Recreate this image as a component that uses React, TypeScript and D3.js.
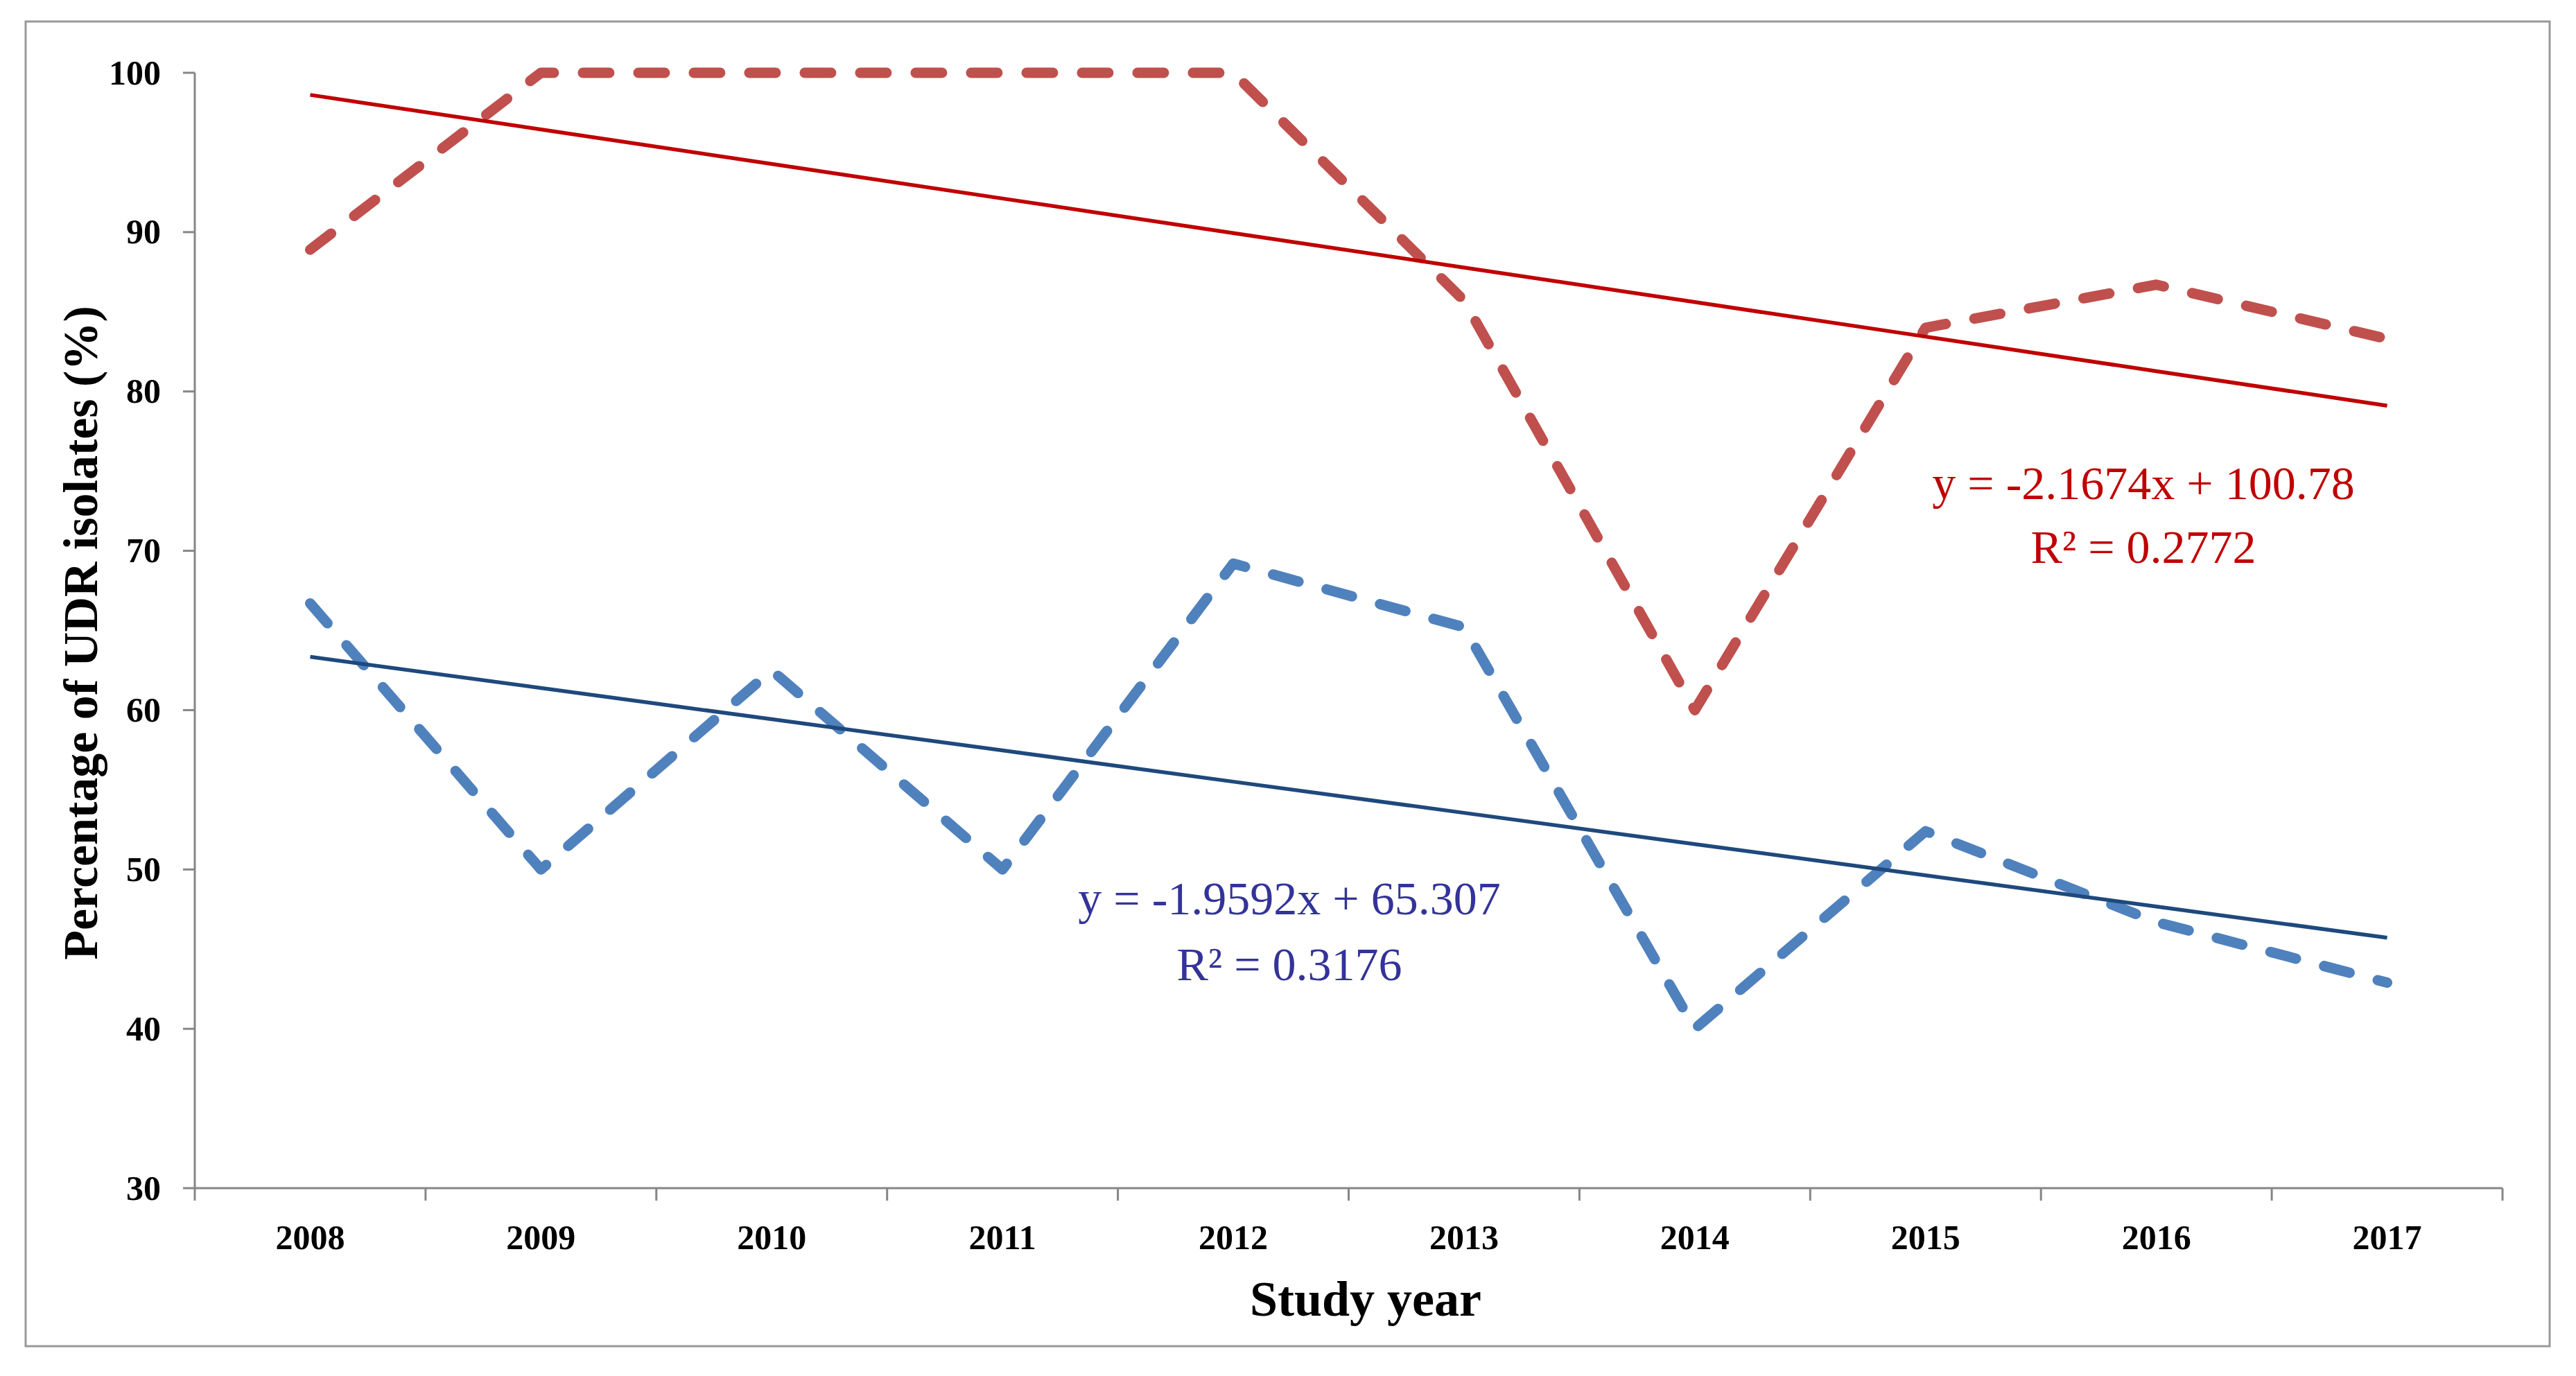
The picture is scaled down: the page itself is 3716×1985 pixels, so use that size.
import * as React from 'react';
import * as d3 from 'd3';

const years = ['2008', '2009', '2010', '2011', '2012', '2013', '2014', '2015', '2016', '2017'];
const redValues = [88.9, 100, 100, 100, 100, 85.7, 60, 84.0, 86.7, 83.3];
const blueValues = [66.7, 50, 62.5, 50, 69.2, 65.2, 40, 52.4, 46.7, 42.9];
const yTicks = [30, 40, 50, 60, 70, 80, 90, 100];

// trendlines as printed on the chart (x = 1..10)
const redTrend = { slope: -2.1674, intercept: 100.78, r2: '0.2772' };
const blueTrend = { slope: -1.9592, intercept: 65.307, r2: '0.3176' };

const W = 3716;
const H = 1985;
const font = '"Liberation Serif", "Times New Roman", serif';

const App = () => {
  const left = 281, right = 3610, top = 105, bottom = 1714;

  const x = d3.scaleBand<string>().domain(years).range([left, right]);
  const y = d3.scaleLinear().domain([30, 100]).range([bottom, top]);
  const cx = (d: string) => (x(d) as number) + x.bandwidth() / 2;

  const line = d3.line<number>()
    .x((_, i) => cx(years[i]))
    .y(v => y(v));

  const trend = (t: { slope: number; intercept: number }) =>
    years.map((_, i) => t.intercept + t.slope * (i + 1));

  const axisColor = '#868686';
  const boundaries = years.map(d => x(d) as number).concat([right]);

  return (
    <svg width={W} height={H} style={{ position: 'absolute', left: 0, top: 0, background: '#fff' }}>
      <rect x={37} y={31} width={3641} height={1911} fill="#fff" stroke="#999" strokeWidth={3} />

      {/* y axis */}
      <line x1={left} x2={left} y1={top} y2={bottom} stroke={axisColor} strokeWidth={3} />
      {yTicks.map(t => (
        <g key={t}>
          <line x1={left - 17} x2={left} y1={y(t)} y2={y(t)} stroke={axisColor} strokeWidth={3} />
          <text x={232} y={y(t)} dy="0.33em" textAnchor="end" fontFamily={font} fontWeight="bold" fontSize={50}>{t}</text>
        </g>
      ))}

      {/* x axis */}
      <line x1={left} x2={right} y1={bottom} y2={bottom} stroke={axisColor} strokeWidth={3} />
      {boundaries.map((b, i) => (
        <line key={i} x1={b} x2={b} y1={bottom} y2={bottom + 18} stroke={axisColor} strokeWidth={3} />
      ))}
      {years.map(d => (
        <text key={d} x={cx(d)} y={1802} textAnchor="middle" fontFamily={font} fontWeight="bold" fontSize={50}>{d}</text>
      ))}

      {/* series */}
      <path d={line(redValues) || ''} fill="none" stroke="#C0504D" strokeWidth={15}
        strokeDasharray="38 42" strokeLinecap="round" strokeLinejoin="round" />
      <path d={line(blueValues) || ''} fill="none" stroke="#4F81BD" strokeWidth={15}
        strokeDasharray="38 42" strokeLinecap="round" strokeLinejoin="round" />

      {/* trendlines */}
      <path d={line(trend(redTrend)) || ''} fill="none" stroke="#C00000" strokeWidth={5.5} />
      <path d={line(trend(blueTrend)) || ''} fill="none" stroke="#1F497D" strokeWidth={5.5} />

      {/* equations */}
      <text x={3092} y={720} textAnchor="middle" fontFamily={font} fontSize={68} fill="#C00000">
        y = {redTrend.slope}x + {redTrend.intercept}
      </text>
      <text x={3092} y={812} textAnchor="middle" fontFamily={font} fontSize={68} fill="#C00000">
        R² = {redTrend.r2}
      </text>
      <text x={1860} y={1319} textAnchor="middle" fontFamily={font} fontSize={68} fill="#333399">
        y = {blueTrend.slope}x + {blueTrend.intercept}
      </text>
      <text x={1860} y={1414} textAnchor="middle" fontFamily={font} fontSize={68} fill="#333399">
        R² = {blueTrend.r2}
      </text>

      {/* axis titles */}
      <text transform="translate(140,913) rotate(-90)" textAnchor="middle" fontFamily={font}
        fontWeight="bold" fontSize={70}>Percentage of UDR isolates (%)</text>
      <text x={1970} y={1898} textAnchor="middle" fontFamily={font} fontWeight="bold" fontSize={72}>Study year</text>
    </svg>
  );
};

export default App;
